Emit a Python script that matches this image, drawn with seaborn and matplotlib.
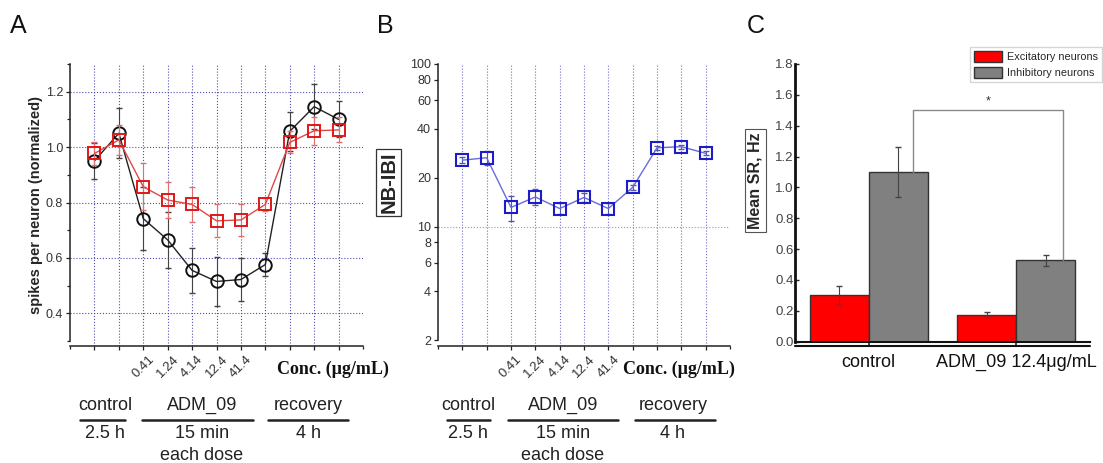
import numpy as np
import pandas as pd
import seaborn as sns
import matplotlib.pyplot as plt
from matplotlib.lines import Line2D
from matplotlib.ticker import MultipleLocator, FixedLocator, NullLocator, FixedFormatter

# ---- data -------------------------------------------------------------
steps = list(range(1, 12))
dose_steps = [3, 4, 5, 6, 7]
dose_labels = ["0.41", "1.24", "4.14", "12.4", "41.4"]

# panel A: spikes per neuron (normalized)
spikes_black = [0.95, 1.05, 0.742, 0.665, 0.555, 0.515, 0.522, 0.576, 1.057, 1.146, 1.10]
spikes_black_err = [0.065, 0.09, 0.113, 0.10, 0.08, 0.087, 0.077, 0.04, 0.07, 0.08, 0.065]
spikes_red = [0.977, 1.026, 0.857, 0.809, 0.793, 0.734, 0.737, 0.793, 1.017, 1.059, 1.062]
spikes_red_err = [0.04, 0.055, 0.085, 0.065, 0.063, 0.06, 0.057, 0.025, 0.04, 0.05, 0.045]

# panel B: NB-IBI
nbibi = [25.6, 26.5, 13.1, 15.2, 12.9, 15.1, 12.9, 17.4, 30.5, 31.0, 28.2]
nbibi_err = [1.0, 2.6, 2.3, 1.7, 1.0, 1.0, 1.0, 0.6, 0.8, 0.8, 0.8]
nbibi_ticks = [2, 4, 6, 8, 10, 20, 40, 60, 80, 100]

# panel C: mean spike rate
groups = ["control", "ADM_09 12.4μg/mL"]
neuron_types = ["Excitatory neurons", "Inhibitory neurons"]
sr_excit = [0.30, 0.175]
sr_excit_err = [0.06, 0.015]
sr_inhib = [1.10, 0.527]
sr_inhib_err = [0.16, 0.035]

# ---- style ------------------------------------------------------------
sns.set_theme(style="ticks")
plt.rcParams["font.family"] = ["Liberation Sans", "DejaVu Sans"]

W, H = 1103, 463


def fx(x):
    return x / W


def fy(y):
    return 1 - y / H


fig = plt.figure(figsize=(W / 100, H / 100), dpi=100)
axA = fig.add_axes([fx(70), fy(346), 293 / W, 282 / H])
axB = fig.add_axes([fx(438), fy(346), 292 / W, 282 / H])
axC = fig.add_axes([fx(795), fy(341.7), 295 / W, 277.7 / H])

grid_col = "#3c3caa"

# ---- panel A ----------------------------------------------------------
sns.lineplot(x=steps, y=spikes_black, ax=axA, color="#222222", lw=1,
             marker="o", ms=9, mfc="none", mec="#111111", mew=1.4, zorder=3)
axA.errorbar(steps, spikes_black, yerr=spikes_black_err, fmt="none",
             ecolor="#444444", elinewidth=0.8, capsize=2.5, zorder=2)
sns.lineplot(x=steps, y=spikes_red, ax=axA, color="#e04848", lw=1,
             marker="s", ms=8, mfc="none", mec="#e01818", mew=1.4, zorder=5)
axA.errorbar(steps, spikes_red, yerr=spikes_red_err, fmt="none",
             ecolor="#e07070", elinewidth=0.8, capsize=2.5, zorder=4)

axA.set_xlim(0, 12)
axA.set_ylim(0.282, 1.3)
axA.set_xticks(steps)
axA.set_xticks([0, 12], minor=True)
axA.set_xticklabels([dose_labels[dose_steps.index(s)] if s in dose_steps else "" for s in steps],
                    rotation=45, ha="center", va="top", fontsize=9.5, color="#333333")
axA.yaxis.set_major_locator(FixedLocator([0.4, 0.6, 0.8, 1.0, 1.2]))
axA.yaxis.set_minor_locator(MultipleLocator(0.1))
axA.set_yticklabels(["0.4", "0.6", "0.8", "1.0", "1.2"], fontsize=9, color="#333333")
axA.grid(True, which="major", ls=":", color=grid_col, lw=0.8, alpha=0.9)
axA.tick_params(which="both", direction="out", color="#222222", width=0.9)
axA.tick_params(which="major", length=3, pad=2)
axA.tick_params(which="minor", length=2)
axA.spines[["top", "right"]].set_visible(False)
axA.spines["left"].set_bounds(0.3, 1.3)
for s in ["left", "bottom"]:
    axA.spines[s].set_linewidth(1.1)
    axA.spines[s].set_color("#222222")
axA.set_ylabel("spikes per neuron (normalized)", fontsize=10.5, fontweight="bold",
               va="center")
axA.yaxis.set_label_coords(-0.115, 0.5)
axA.set_xlabel("")

# ---- panel B ----------------------------------------------------------
sns.lineplot(x=steps, y=nbibi, ax=axB, color="#6a6ad8", lw=1,
             marker="s", ms=8, mfc="none", mec="#1c1cc8", mew=1.5, zorder=5)
axB.errorbar(steps, nbibi, yerr=nbibi_err, fmt="none",
             ecolor="#5555aa", elinewidth=0.8, capsize=2.5, zorder=4)
axB.set_yscale("log")
axB.set_xlim(0, 12)
axB.set_ylim(1.84, 100)
axB.set_xticks(steps)
axB.set_xticks([0, 12], minor=True)
axB.set_xticklabels([dose_labels[dose_steps.index(s)] if s in dose_steps else "" for s in steps],
                    rotation=45, ha="center", va="top", fontsize=9.5, color="#333333")
axB.yaxis.set_major_locator(FixedLocator(nbibi_ticks))
axB.yaxis.set_major_formatter(FixedFormatter([str(t) for t in nbibi_ticks]))
axB.yaxis.set_minor_locator(NullLocator())
axB.tick_params(axis="y", labelsize=9, labelcolor="#333333")
axB.grid(True, axis="x", which="major", ls=":", color="#7070c8", lw=0.8)
axB.axhline(10, ls=":", color="#9090dd", lw=0.8, zorder=1)
axB.tick_params(which="both", direction="out", color="#222222", width=0.9)
axB.tick_params(which="major", length=3, pad=2)
axB.tick_params(which="minor", length=2)
axB.spines[["top", "right"]].set_visible(False)
axB.spines["left"].set_bounds(2, 100)
for s in ["left", "bottom"]:
    axB.spines[s].set_linewidth(1.1)
    axB.spines[s].set_color("#222222")
axB.set_ylabel("NB-IBI", fontsize=14.5, fontweight="bold", va="center",
               bbox=dict(boxstyle="square,pad=0.15", fc="white", ec="#333333", lw=0.9))
axB.yaxis.set_label_coords(-0.169, 0.58)
axB.set_xlabel("")

# ---- panel C ----------------------------------------------------------
df = pd.DataFrame({
    "group": groups * 2,
    "type": [neuron_types[0]] * 2 + [neuron_types[1]] * 2,
    "value": sr_excit + sr_inhib,
})
sns.barplot(data=df, x="group", y="value", hue="type", order=groups,
            hue_order=neuron_types, palette=["#ff0000", "#808080"], saturation=1,
            edgecolor="#333333", linewidth=1, width=0.8, errorbar=None, ax=axC)
for cont, errs in zip(axC.containers, [sr_excit_err, sr_inhib_err]):
    for bar, e in zip(cont, errs):
        axC.errorbar(bar.get_x() + bar.get_width() / 2, bar.get_height(), yerr=e,
                     fmt="none", ecolor="#444444", elinewidth=0.8, capsize=2.5)

# significance bracket between the inhibitory bars
b0, b1 = axC.containers[1][0], axC.containers[1][1]
xl = b0.get_x() + b0.get_width() * 0.75
xr = b1.get_x() + b1.get_width() * 0.8
ytop = 1.5
axC.plot([xl, xl, xr, xr], [sr_inhib[0], ytop, ytop, sr_inhib[1]], color="#8a8a8a", lw=1)
axC.text((xl + xr) / 2, ytop + 0.06, "*", ha="center", va="center", fontsize=9, color="#333333")

axC.set_xlim(-0.5, 1.5)
axC.set_ylim(0, 1.8)
axC.set_yticks(np.arange(0, 1.81, 0.2))
axC.set_yticklabels([f"{v:.1f}" for v in np.arange(0, 1.81, 0.2)], fontsize=9.5, color="#444444")
axC.tick_params(axis="y", direction="in", length=3, pad=1, width=1)
axC.tick_params(axis="x", direction="out", length=3, pad=6, width=1.2, labelsize=13,
                labelcolor="#111111")
axC.spines[["top", "right"]].set_visible(False)
axC.spines["left"].set_linewidth(2)
axC.spines["left"].set_color("#111111")
axC.spines["bottom"].set_linewidth(1.5)
axC.spines["bottom"].set_color("#111111")
axC.plot([0, 1], [-0.0144, -0.0144], transform=axC.transAxes, clip_on=False,
         color="#111111", lw=1.5)
axC.set_xlabel("")
axC.set_ylabel("Mean SR, Hz", fontsize=11.5, fontweight="bold", va="center",
               bbox=dict(boxstyle="square,pad=0.2", fc="white", ec="#555555", lw=0.8))
axC.yaxis.set_label_coords(-0.134, 0.58)

handles, labels = axC.get_legend_handles_labels()
axC.legend(handles, labels, loc="upper right", bbox_to_anchor=(fx(1102), fy(47)),
           bbox_transform=fig.transFigure, fontsize=7.8, frameon=True, fancybox=False,
           edgecolor="#cccccc", borderpad=0.35, labelspacing=0.45, handlelength=2.6,
           handleheight=1.2, handletextpad=0.5, borderaxespad=0)

# ---- panel letters ----------------------------------------------------
for letter, x in [("A", 10), ("B", 377), ("C", 747)]:
    fig.text(fx(x), fy(26), letter, fontsize=18, ha="left", va="center", color="#111111")


# ---- protocol annotation under A and B --------------------------------
def protocol(left, conc_x, blocks):
    fig.text(fx(conc_x), fy(369), "Conc. (μg/mL)", family=["Liberation Serif", "DejaVu Serif"],
             fontweight="bold", fontsize=13, ha="left", va="center", color="#111111")
    for cx, x0, x1, top, bottom in blocks:
        fig.text(fx(left + cx), fy(405), top, fontsize=13, ha="center", va="center",
                 color="#222222")
        fig.add_artist(Line2D([fx(left + x0), fx(left + x1)], [fy(420), fy(420)],
                              transform=fig.transFigure, color="#222222", lw=1.8))
        for i, t in enumerate(bottom):
            fig.text(fx(left + cx), fy(434 + 21 * i), t, fontsize=13, ha="center",
                     va="center", color="#222222")


protocol(70, 277, [(35, 10, 55, "control", ["2.5 h"]),
                   (132, 72, 183, "ADM_09", ["15 min", "each dose"]),
                   (238, 198, 278, "recovery", ["4 h"])])
protocol(438, 623, [(30, 9, 52, "control", ["2.5 h"]),
                    (125, 70, 180, "ADM_09", ["15 min", "each dose"]),
                    (235, 197, 277, "recovery", ["4 h"])])

fig.savefig("out.png", dpi=100)
